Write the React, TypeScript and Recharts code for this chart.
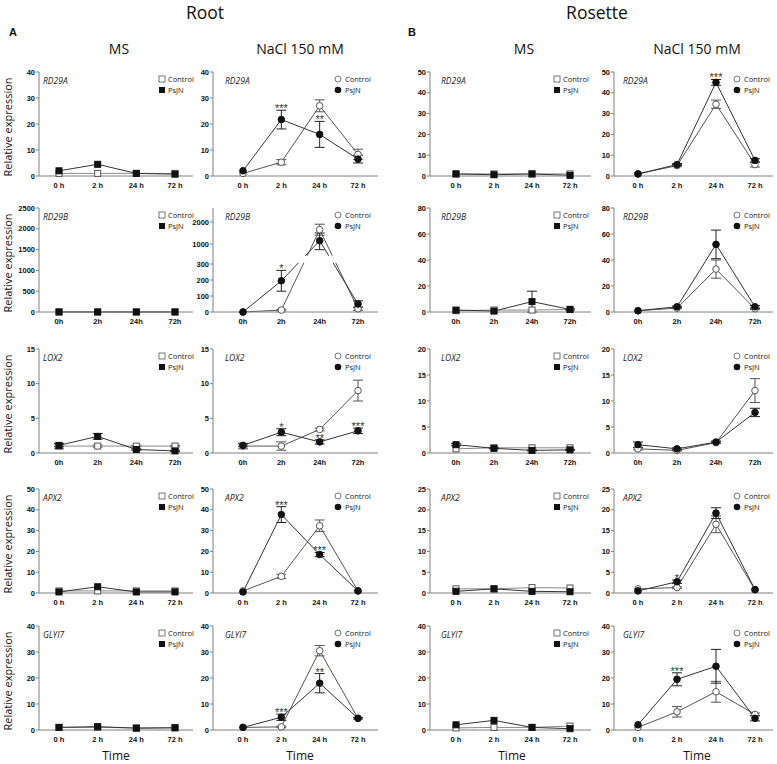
import React from 'react';
import { ComposedChart, Line, XAxis, YAxis, ErrorBar, LabelList, ReferenceArea } from 'recharts';

const timesSpaced = ['0 h', '2 h', '24 h', '72 h'];
const timesTight = ['0h', '2h', '24h', '72h'];

const ticks15 = [0, 5, 10, 15];
const ticks20 = [0, 5, 10, 15, 20];
const ticks25 = [0, 5, 10, 15, 20, 25];
const ticks40 = [0, 10, 20, 30, 40];
const ticks50 = [0, 10, 20, 30, 40, 50];
const ticks80 = [0, 20, 40, 60, 80];
const ticks2500 = [0, 500, 1000, 1500, 2000, 2500];
const ticksBroken = [0, 100, 200, 300, 1000, 2000];

const noErr = [0, 0, 0, 0];

// RD29A
const rd29aRootMsCtrl = [1, 1, 1, 1];
const rd29aRootMsPsjn = [2, 4.5, 1, 0.7];
const rd29aRootNaCtrl = [1, 5.3, 27, 8.3];
const rd29aRootNaCtrlErr = [0, 1, 2.3, 2];
const rd29aRootNaPsjn = [2, 21.7, 16, 6.5];
const rd29aRootNaPsjnErr = [0, 3.6, 5, 1.5];
const rd29aRootNaStars = ['', '***', '**', ''];
const rd29aRosMsCtrl = [1, 1, 1, 1];
const rd29aRosMsPsjn = [1, 0.6, 1, 0.3];
const rd29aRosNaCtrl = [1, 5, 34.5, 5.5];
const rd29aRosNaCtrlErr = [0, 0.5, 2, 1.2];
const rd29aRosNaPsjn = [1, 5.5, 45, 7.5];
const rd29aRosNaPsjnErr = [0, 0.5, 1.4, 0.8];
const rd29aRosNaStars = ['', '', '***', ''];

// RD29B
const rd29bRootMsCtrl = [1, 1, 1, 1];
const rd29bRootMsPsjn = [1, 1, 1, 1];
const rd29bRootNaCtrl = [0, 12, 1650, 20];
const rd29bRootNaCtrlErr = [0, 5, 250, 10];
const rd29bRootNaPsjn = [0, 195, 1150, 50];
const rd29bRootNaPsjnErr = [0, 65, 350, 20];
const rd29bRootNaStars = ['', '*', '', ''];
const rd29bRosMsCtrl = [1, 1.5, 1.5, 2];
const rd29bRosMsPsjn = [1.5, 0.7, 8, 2];
const rd29bRosMsPsjnErr = [0, 0, 8, 0.5];
const rd29bRosNaCtrl = [1, 3, 33, 2.5];
const rd29bRosNaCtrlErr = [0, 0.5, 7, 0.5];
const rd29bRosNaPsjn = [1, 4, 52, 4];
const rd29bRosNaPsjnErr = [0, 0.5, 11, 1];

// LOX2
const lox2RootMsCtrl = [1, 1, 1, 1];
const lox2RootMsCtrlErr = [0.4, 0.15, 0.1, 0.1];
const lox2RootMsPsjn = [1.1, 2.4, 0.5, 0.3];
const lox2RootMsPsjnErr = [0.2, 0.4, 0.1, 0.1];
const lox2RootNaCtrl = [1, 1, 3.4, 9];
const lox2RootNaCtrlErr = [0.4, 0.6, 0.2, 1.5];
const lox2RootNaPsjn = [1.1, 3, 1.6, 3.2];
const lox2RootNaPsjnErr = [0.2, 0.5, 0.3, 0.4];
const lox2RootNaStars = ['', '*', '**', '***'];
const lox2RosMsCtrl = [0.8, 1, 1, 1];
const lox2RosMsPsjn = [1.6, 0.9, 0.5, 0.6];
const lox2RosMsPsjnErr = [0.2, 0.1, 0.1, 0.1];
const lox2RosNaCtrl = [0.8, 0.5, 2, 12];
const lox2RosNaCtrlErr = [0.2, 0.1, 0.2, 2.3];
const lox2RosNaPsjn = [1.6, 0.8, 2.1, 7.8];
const lox2RosNaPsjnErr = [0.5, 0.2, 0.2, 0.8];

// APX2
const apx2RootMsCtrl = [1, 1, 1, 1];
const apx2RootMsPsjn = [0.5, 3, 0.5, 0.5];
const apx2RootNaCtrl = [1, 8, 32.3, 1];
const apx2RootNaCtrlErr = [0, 1, 2.8, 0];
const apx2RootNaPsjn = [0.5, 37.7, 18.5, 1];
const apx2RootNaPsjnErr = [0, 3.8, 1, 0];
const apx2RootNaStars = ['', '***', '***', ''];
const apx2RosMsCtrl = [1, 1, 1.3, 1.2];
const apx2RosMsPsjn = [0.4, 1, 0.4, 0.3];
const apx2RosNaCtrl = [1, 1.3, 16.5, 0.8];
const apx2RosNaCtrlErr = [0, 0.2, 2, 0];
const apx2RosNaPsjn = [0.5, 2.7, 19.2, 0.8];
const apx2RosNaPsjnErr = [0, 0.4, 1.3, 0];
const apx2RosNaStars = ['', '*', '', ''];

// GLYI7
const glyi7RootMsCtrl = [1, 1, 0.8, 1];
const glyi7RootMsPsjn = [1, 1.3, 0.7, 0.8];
const glyi7RootNaCtrl = [1, 1.2, 30.5, 4.5];
const glyi7RootNaCtrlErr = [0, 0.3, 2, 0];
const glyi7RootNaPsjn = [1, 4.9, 18, 4.5];
const glyi7RootNaPsjnErr = [0, 1.2, 3.7, 0.3];
const glyi7RootNaStars = ['', '***', '**', ''];
const glyi7RosMsCtrl = [0.8, 1, 1, 1.5];
const glyi7RosMsPsjn = [2, 3.7, 1, 0.5];
const glyi7RosNaCtrl = [1, 7, 14.7, 6];
const glyi7RosNaCtrlErr = [0, 2, 4, 0.5];
const glyi7RosNaPsjn = [2, 19.5, 24.5, 4.5];
const glyi7RosNaPsjnErr = [0, 2.5, 6.5, 1];
const glyi7RosNaStars = ['', '***', '', ''];

// layout
const colLeft = [39, 213, 430, 614];
const colRight = [193, 378, 591, 773];
const rowTop = [72, 208, 349, 489, 626];
const plotH = 104;
const padX = [
  { left: 20, right: 18 },
  { left: 30, right: 20 },
  { left: 26, right: 21 },
  { left: 24, right: 18 },
];
const geneDx = [4, 12, 11, 9];
const legIconDx = [31, 40, 34, 36];
const legTextDx = [25, 33, 28, 29];

const FRAME = '#808080';
const TICK_FONT = '"Liberation Sans", Arial, sans-serif';
const TEXT_FONT = '"Open Sans", "Noto Sans", sans-serif';

// broken axis (RD29B root NaCl): 0-300 below, 1000-2000 above
function brk(v: number) {
  if (v <= 300) return v;
  if (v < 1000) return 300 + ((v - 300) / 700) * 125;
  return 425 + (v - 1000) * 0.1375;
}

type Spec = {
  gene: string;
  row: number;
  col: number;
  cats: string[];
  ticks: number[];
  max: number;
  ctrl: number[];
  ctrlErr: number[];
  psjn: number[];
  psjnErr: number[];
  stars?: string[];
  broken?: boolean;
};

const specs: Spec[] = [
  { gene: 'RD29A', row: 0, col: 0, cats: timesSpaced, ticks: ticks40, max: 40, ctrl: rd29aRootMsCtrl, ctrlErr: noErr, psjn: rd29aRootMsPsjn, psjnErr: noErr },
  { gene: 'RD29A', row: 0, col: 1, cats: timesSpaced, ticks: ticks40, max: 40, ctrl: rd29aRootNaCtrl, ctrlErr: rd29aRootNaCtrlErr, psjn: rd29aRootNaPsjn, psjnErr: rd29aRootNaPsjnErr, stars: rd29aRootNaStars },
  { gene: 'RD29A', row: 0, col: 2, cats: timesSpaced, ticks: ticks50, max: 50, ctrl: rd29aRosMsCtrl, ctrlErr: noErr, psjn: rd29aRosMsPsjn, psjnErr: noErr },
  { gene: 'RD29A', row: 0, col: 3, cats: timesSpaced, ticks: ticks50, max: 50, ctrl: rd29aRosNaCtrl, ctrlErr: rd29aRosNaCtrlErr, psjn: rd29aRosNaPsjn, psjnErr: rd29aRosNaPsjnErr, stars: rd29aRosNaStars },

  { gene: 'RD29B', row: 1, col: 0, cats: timesTight, ticks: ticks2500, max: 2500, ctrl: rd29bRootMsCtrl, ctrlErr: noErr, psjn: rd29bRootMsPsjn, psjnErr: noErr },
  { gene: 'RD29B', row: 1, col: 1, cats: timesTight, ticks: ticksBroken, max: 650, ctrl: rd29bRootNaCtrl, ctrlErr: rd29bRootNaCtrlErr, psjn: rd29bRootNaPsjn, psjnErr: rd29bRootNaPsjnErr, stars: rd29bRootNaStars, broken: true },
  { gene: 'RD29B', row: 1, col: 2, cats: timesTight, ticks: ticks80, max: 80, ctrl: rd29bRosMsCtrl, ctrlErr: noErr, psjn: rd29bRosMsPsjn, psjnErr: rd29bRosMsPsjnErr },
  { gene: 'RD29B', row: 1, col: 3, cats: timesTight, ticks: ticks80, max: 80, ctrl: rd29bRosNaCtrl, ctrlErr: rd29bRosNaCtrlErr, psjn: rd29bRosNaPsjn, psjnErr: rd29bRosNaPsjnErr },

  { gene: 'LOX2', row: 2, col: 0, cats: timesTight, ticks: ticks15, max: 15, ctrl: lox2RootMsCtrl, ctrlErr: lox2RootMsCtrlErr, psjn: lox2RootMsPsjn, psjnErr: lox2RootMsPsjnErr },
  { gene: 'LOX2', row: 2, col: 1, cats: timesTight, ticks: ticks15, max: 15, ctrl: lox2RootNaCtrl, ctrlErr: lox2RootNaCtrlErr, psjn: lox2RootNaPsjn, psjnErr: lox2RootNaPsjnErr, stars: lox2RootNaStars },
  { gene: 'LOX2', row: 2, col: 2, cats: timesTight, ticks: ticks20, max: 20, ctrl: lox2RosMsCtrl, ctrlErr: noErr, psjn: lox2RosMsPsjn, psjnErr: lox2RosMsPsjnErr },
  { gene: 'LOX2', row: 2, col: 3, cats: timesTight, ticks: ticks20, max: 20, ctrl: lox2RosNaCtrl, ctrlErr: lox2RosNaCtrlErr, psjn: lox2RosNaPsjn, psjnErr: lox2RosNaPsjnErr },

  { gene: 'APX2', row: 3, col: 0, cats: timesSpaced, ticks: ticks50, max: 50, ctrl: apx2RootMsCtrl, ctrlErr: noErr, psjn: apx2RootMsPsjn, psjnErr: noErr },
  { gene: 'APX2', row: 3, col: 1, cats: timesSpaced, ticks: ticks50, max: 50, ctrl: apx2RootNaCtrl, ctrlErr: apx2RootNaCtrlErr, psjn: apx2RootNaPsjn, psjnErr: apx2RootNaPsjnErr, stars: apx2RootNaStars },
  { gene: 'APX2', row: 3, col: 2, cats: timesSpaced, ticks: ticks25, max: 25, ctrl: apx2RosMsCtrl, ctrlErr: noErr, psjn: apx2RosMsPsjn, psjnErr: noErr },
  { gene: 'APX2', row: 3, col: 3, cats: timesSpaced, ticks: ticks25, max: 25, ctrl: apx2RosNaCtrl, ctrlErr: apx2RosNaCtrlErr, psjn: apx2RosNaPsjn, psjnErr: apx2RosNaPsjnErr, stars: apx2RosNaStars },

  { gene: 'GLYI7', row: 4, col: 0, cats: timesSpaced, ticks: ticks40, max: 40, ctrl: glyi7RootMsCtrl, ctrlErr: noErr, psjn: glyi7RootMsPsjn, psjnErr: noErr },
  { gene: 'GLYI7', row: 4, col: 1, cats: timesSpaced, ticks: ticks40, max: 40, ctrl: glyi7RootNaCtrl, ctrlErr: glyi7RootNaCtrlErr, psjn: glyi7RootNaPsjn, psjnErr: glyi7RootNaPsjnErr, stars: glyi7RootNaStars },
  { gene: 'GLYI7', row: 4, col: 2, cats: timesSpaced, ticks: ticks40, max: 40, ctrl: glyi7RosMsCtrl, ctrlErr: noErr, psjn: glyi7RosMsPsjn, psjnErr: noErr },
  { gene: 'GLYI7', row: 4, col: 3, cats: timesSpaced, ticks: ticks40, max: 40, ctrl: glyi7RosNaCtrl, ctrlErr: glyi7RosNaCtrlErr, psjn: glyi7RosNaPsjn, psjnErr: glyi7RosNaPsjnErr, stars: glyi7RosNaStars },
];

function marker(square: boolean, filled: boolean, stroke: string) {
  return (p: any) => {
    const { cx, cy, index } = p;
    if (cx == null || cy == null) return <g key={index} />;
    const fill = filled ? '#111' : '#fff';
    const s = filled ? '#111' : stroke;
    if (square) {
      return <rect key={index} x={cx - 3} y={cy - 3} width={6} height={6} fill={fill} stroke={s} strokeWidth={1} />;
    }
    return <circle key={index} cx={cx} cy={cy} r={3.3} fill={fill} stroke={s} strokeWidth={1} />;
  };
}

const starLabel = (p: any) => {
  const { x, y, value, index } = p;
  if (!value || y == null || isNaN(y)) return null;
  return (
    <text key={index} x={x} y={y + 2} textAnchor="middle" fontSize={11} fill="#333" fontFamily={TICK_FONT}>
      {value}
    </text>
  );
};

function Panel({ spec }: { spec: Spec }) {
  const { row, col } = spec;
  const ms = col % 2 === 0;
  const tf = spec.broken ? brk : (v: number) => v;
  const err = (v: number, e: number): any =>
    !e ? 0 : spec.broken ? [tf(v) - tf(v - e), tf(v + e) - tf(v)] : e;
  const data = spec.cats.map((t, i) => {
    const star = spec.stars ? spec.stars[i] : '';
    return {
      t,
      ctrl: tf(spec.ctrl[i]),
      ctrlErr: err(spec.ctrl[i], spec.ctrlErr[i]),
      psjn: tf(spec.psjn[i]),
      psjnErr: err(spec.psjn[i], spec.psjnErr[i]),
      star,
      starY: star ? tf(spec.psjn[i] + spec.psjnErr[i]) : null,
    };
  });
  const yTicks = spec.broken ? spec.ticks.map(brk) : spec.ticks;
  const tickLabel = (v: number) => {
    if (!spec.broken) return String(v);
    const i = yTicks.indexOf(v);
    return i >= 0 ? String(spec.ticks[i]) : '';
  };
  const frameW = colRight[col] - colLeft[col];
  const ctrlStroke = ms ? '#8a8a8a' : '#555';
  const tickStyle = { fontSize: 7.5, fontWeight: 700, fill: '#111', fontFamily: TICK_FONT };
  const extra: any = { zIndex: 450 };

  return (
    <div style={{ position: 'absolute', left: colLeft[col] - 30, top: rowTop[row] - 5 }}>
      <ComposedChart
        width={frameW + 32}
        height={plotH + 5 + 16}
        data={data}
        margin={{ top: 5, right: 2, bottom: 0, left: 0 }}
      >
        <XAxis
          dataKey="t"
          padding={padX[col]}
          height={16}
          tickLine={false}
          tickSize={5}
          axisLine={{ stroke: FRAME }}
          tick={tickStyle}
          interval={0}
        />
        <XAxis xAxisId="top" dataKey="t" orientation="top" height={0} tick={false} tickLine={false} axisLine={{ stroke: FRAME }} padding={padX[col]} />
        <YAxis
          type="number"
          domain={[0, spec.max]}
          ticks={yTicks}
          interval={0}
          width={30}
          tickSize={3}
          tickMargin={1}
          tickLine={{ stroke: FRAME }}
          axisLine={{ stroke: FRAME }}
          tick={tickStyle}
          tickFormatter={tickLabel}
        />
        <YAxis yAxisId="right" orientation="right" type="number" domain={[0, spec.max]} width={0} tick={false} tickLine={false} axisLine={{ stroke: FRAME }} />
        <Line
          dataKey="ctrl"
          stroke={ctrlStroke}
          strokeWidth={1}
          dot={marker(ms, false, '#555')}
          activeDot={false}
          isAnimationActive={false}
        >
          <ErrorBar dataKey="ctrlErr" width={5} stroke="#555" strokeWidth={1} direction="y" />
        </Line>
        <Line
          dataKey="psjn"
          stroke="#333"
          strokeWidth={1}
          dot={marker(ms, true, '#111')}
          activeDot={false}
          isAnimationActive={false}
        >
          <ErrorBar dataKey="psjnErr" width={5} stroke="#222" strokeWidth={1} direction="y" />
        </Line>
        {spec.broken && (
          <ReferenceArea y1={brk(340)} y2={brk(590)} fill="#fff" fillOpacity={1} stroke="none" {...extra} />
        )}
        {spec.stars && (
          <Line dataKey="starY" stroke="none" dot={false} activeDot={false} isAnimationActive={false} legendType="none">
            <LabelList dataKey="star" content={starLabel} />
          </Line>
        )}
      </ComposedChart>
    </div>
  );
}

function Overlay() {
  const heads = [
    { x: 119, t: 'MS' },
    { x: 300, t: 'NaCl 150 mM' },
    { x: 524, t: 'MS' },
    { x: 697, t: 'NaCl 150 mM' },
  ];
  const timeX = [116, 300, 512, 697];
  return (
    <svg width={777} height={764} style={{ position: 'absolute', left: 0, top: 0, pointerEvents: 'none' }}>
      <text x={205} y={19} textAnchor="middle" fontSize={17.5} fontFamily={TEXT_FONT} fill="#111">Root</text>
      <text x={597} y={19} textAnchor="middle" fontSize={17.5} fontFamily={TEXT_FONT} fill="#111">Rosette</text>
      <text x={9} y={36} fontSize={11} fontWeight={700} fontFamily={TICK_FONT} fill="#111">A</text>
      <text x={408} y={36} fontSize={11} fontWeight={700} fontFamily={TICK_FONT} fill="#111">B</text>
      {heads.map((h, i) => (
        <text key={'h' + i} x={h.x} y={54} textAnchor="middle" fontSize={14} fontFamily={TEXT_FONT} fill="#111">{h.t}</text>
      ))}
      {timeX.map((x, i) => (
        <text key={'t' + i} x={x} y={760} textAnchor="middle" fontSize={12} fontFamily={TEXT_FONT} fill="#111">Time</text>
      ))}
      {rowTop.map((top, i) => {
        const cy = top + plotH / 2 + 3;
        return (
          <text key={'r' + i} x={11.5} y={cy} transform={`rotate(-90, 11.5, ${cy})`} textAnchor="middle" fontSize={11} fontFamily={TEXT_FONT} fill="#111">
            Relative expression
          </text>
        );
      })}
      {specs.map((s, i) => {
        const top = rowTop[s.row];
        const left = colLeft[s.col];
        const right = colRight[s.col];
        const ms = s.col % 2 === 0;
        const ix = right - legIconDx[s.col];
        const tx = right - legTextDx[s.col];
        return (
          <g key={'g' + i}>
            <text x={left + geneDx[s.col]} y={top + 11.5} fontSize={8.5} fontStyle="italic" fontFamily={TEXT_FONT} fill="#222">{s.gene}</text>
            {ms ? (
              <>
                <rect x={ix - 3} y={top + 4} width={6} height={6} fill="#fff" stroke="#555" strokeWidth={0.8} />
                <rect x={ix - 3} y={top + 15} width={6} height={6} fill="#111" />
              </>
            ) : (
              <>
                <circle cx={ix} cy={top + 7} r={3} fill="#fff" stroke="#555" strokeWidth={0.8} />
                <circle cx={ix} cy={top + 18} r={3.3} fill="#111" />
              </>
            )}
            <text x={tx} y={top + 9.8} fontSize={7.5} fontFamily={TEXT_FONT} fill="#222">Control</text>
            <text x={tx} y={top + 20.8} fontSize={7.5} fontFamily={TEXT_FONT} fill="#222">PsJN</text>
          </g>
        );
      })}
    </svg>
  );
}

export default function App() {
  return (
    <div style={{ position: 'absolute', left: 0, top: 0, width: 777, height: 764, background: '#fff' }}>
      {specs.map((s, i) => (
        <Panel key={i} spec={s} />
      ))}
      <Overlay />
    </div>
  );
}
